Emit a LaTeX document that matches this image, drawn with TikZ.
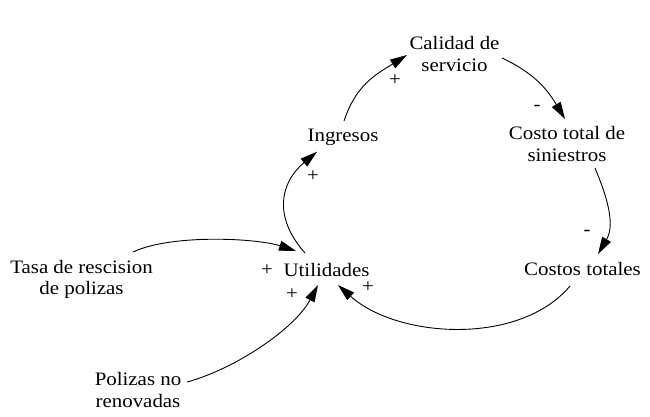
\documentclass[tikz,border=0pt]{standalone}
\usepackage{fontspec}
\setmainfont{Liberation Serif}[FakeStretch=1.1]
\usetikzlibrary{arrows.meta}
\begin{document}
\begin{tikzpicture}[x=1pt,y=1pt,
  lbl/.style={font=\fontsize{19}{21.5}\selectfont, inner sep=0pt, align=center},
  sgn/.style={font=\fontsize{19}{21.5}\selectfont, inner sep=0pt},
  link/.style={line width=0.9pt, -{Triangle[length=17pt,width=10pt]}}]
\useasboundingbox (0,0) rectangle (650,-416);
% nodes
\node[lbl, anchor=base] (util) at (326.5,-276) {Utilidades};
\node[lbl, anchor=base] (ing) at (343,-141.7) {Ingresos};
\node[lbl] (cal) at (454.5,-54) {Calidad de\\servicio};
\node[lbl] (cost) at (567,-144) {Costo total de\\siniestros};
\node[lbl, anchor=base] (ctot) at (582.5,-275) {Costos totales};
\node[lbl] (tasa) at (81.5,-279.5) {Tasa de rescision\\de polizas};
\node[lbl] (pol) at (138,-390) {Polizas no\\renovadas};
% signs
\node[sgn] (s1) at (267,-270) {+};
\node[sgn] (s2) at (292,-294) {+};
\node[sgn] (s3) at (368,-287.5) {+};
\node[sgn] (s4) at (313,-176) {+};
\node[sgn] (s5) at (395,-80) {+};
\node[sgn] (s6) at (537,-108) {-};
\node[sgn] (s7) at (587,-233) {-};
% connectors
\draw[link] ([shift={(-21.5,23)}]util.base) .. controls +(-32,36) and +(-37,-31) .. ([shift={(-26,-10)}]ing.base);
\draw[link] ([shift={(1,20.7)}]ing.base) .. controls +(12,36) and +(-32,-20) .. ([shift={(-47.5,-1)}]cal.center);
\draw[link] ([shift={(47.5,-4)}]cal.center) .. controls +(32,-15) and +(-18,30) .. ([shift={(-2,25)}]cost.center);
\draw[link] ([shift={(28,-24)}]cost.center) .. controls +(13,-31) and +(17,29) .. ([shift={(15.5,21)}]ctot.base);
\draw[link] ([shift={(-12.5,-11)}]ctot.base) .. controls +(-51,-60.5) and +(59,-53) .. ([shift={(11.5,-9)}]util.base);
\draw[link] ([shift={(51.5,27.5)}]tasa.center) .. controls +(38,18) and +(-40,13) .. ([shift={(-30.5,25)}]util.base);
\draw[link] ([shift={(49,8)}]pol.center) .. controls +(48,13) and +(-23.5,-44) .. ([shift={(-8.5,-9)}]util.base);
\end{tikzpicture}
\end{document}
